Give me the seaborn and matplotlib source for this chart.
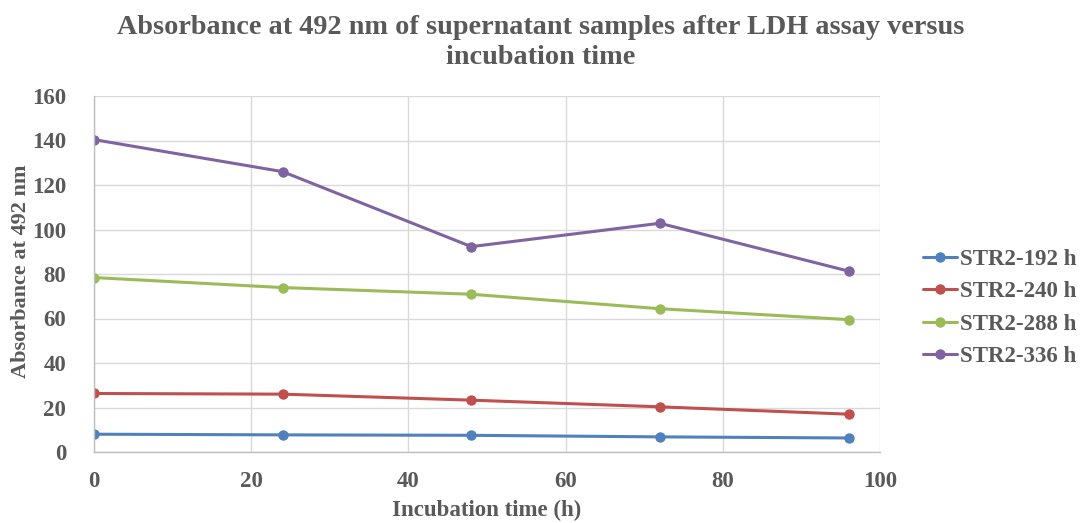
import numpy as np
import pandas as pd
import matplotlib
matplotlib.use("Agg")
import matplotlib.pyplot as plt
import seaborn as sns

time_h = [0, 24, 48, 72, 96]
str2_192 = [8.0, 7.7, 7.5, 6.8, 6.3]
str2_240 = [26.3, 26.0, 23.3, 20.3, 17.0]
str2_288 = [78.4, 73.9, 70.9, 64.4, 59.5]
str2_336 = [140.4, 126.0, 92.3, 102.8, 81.3]
series_names = ["STR2-192 h", "STR2-240 h", "STR2-288 h", "STR2-336 h"]
series_values = [str2_192, str2_240, str2_288, str2_336]
colors = ["#4F81BD", "#C0504D", "#9BBB59", "#8064A2"]

rows = []
for name, vals in zip(series_names, series_values):
    for t, v in zip(time_h, vals):
        rows.append({"time": t, "value": v, "series": name})
df = pd.DataFrame(rows)

sns.set_theme(style="white")
plt.rcParams['font.family'] = ['Liberation Serif', 'DejaVu Serif']
plt.rcParams['font.weight'] = 'bold'

gray = "#595959"
fig = plt.figure(figsize=(10.81, 5.23), dpi=100)
ax = fig.add_axes([94/1081, 1-452/523, (880-94)/1081, (452-96)/523])

sns.lineplot(data=df, x="time", y="value", hue="series", palette=colors,
             marker="o", markersize=7.5, markeredgewidth=0, linewidth=2.2,
             ax=ax, legend=True)

ax.set_xlim(0, 100)
ax.set_ylim(0, 160)
ax.set_xticks(np.arange(0, 101, 20))
ax.set_yticks(np.arange(0, 161, 20))
ax.grid(True, color="#D9D9D9", linewidth=1.0)
ax.set_axisbelow(True)
for s in ax.spines.values():
    s.set_visible(False)
ax.spines['left'].set_visible(True)
ax.spines['bottom'].set_visible(True)
ax.spines['left'].set_color("#BFBFBF")
ax.spines['bottom'].set_color("#BFBFBF")
ax.spines['left'].set_linewidth(1.0)
ax.spines['bottom'].set_linewidth(1.0)
ax.tick_params(axis='both', length=0, labelsize=16.5, labelcolor=gray)
for lbl in ax.get_xticklabels() + ax.get_yticklabels():
    lbl.set_fontweight('bold')
ax.tick_params(axis='y', pad=20)
ax.tick_params(axis='x', pad=14)

ax.set_xlabel("")
ax.set_ylabel("")
fig.text(487/1081, 1-510/523, "Incubation time (h)", ha='center', va='center',
         fontsize=16.5, fontweight='bold', color=gray)
fig.text(21/1081, 1-271/523, "Absorbance at 492 nm", ha='center', va='center',
         rotation=90, fontsize=16, fontweight='bold', color=gray)

fig.text(0.5, 1-28/523, "Absorbance at 492 nm of supernatant samples after LDH assay versus",
         ha='center', va='center', fontsize=20.3, fontweight='bold', color=gray)
fig.text(0.5, 1-58/523, "incubation time",
         ha='center', va='center', fontsize=20.3, fontweight='bold', color=gray)

handles, labels = ax.get_legend_handles_labels()
ax.legend(handles, labels, loc='center left', bbox_to_anchor=(1.043, 0.405),
          frameon=False, prop={'family': 'Liberation Serif', 'weight': 'bold', 'size': 16.5},
          labelcolor=gray, handlelength=1.5, handletextpad=0.12, labelspacing=0.5,
          borderaxespad=0)

fig.savefig("out.png", dpi=100)
